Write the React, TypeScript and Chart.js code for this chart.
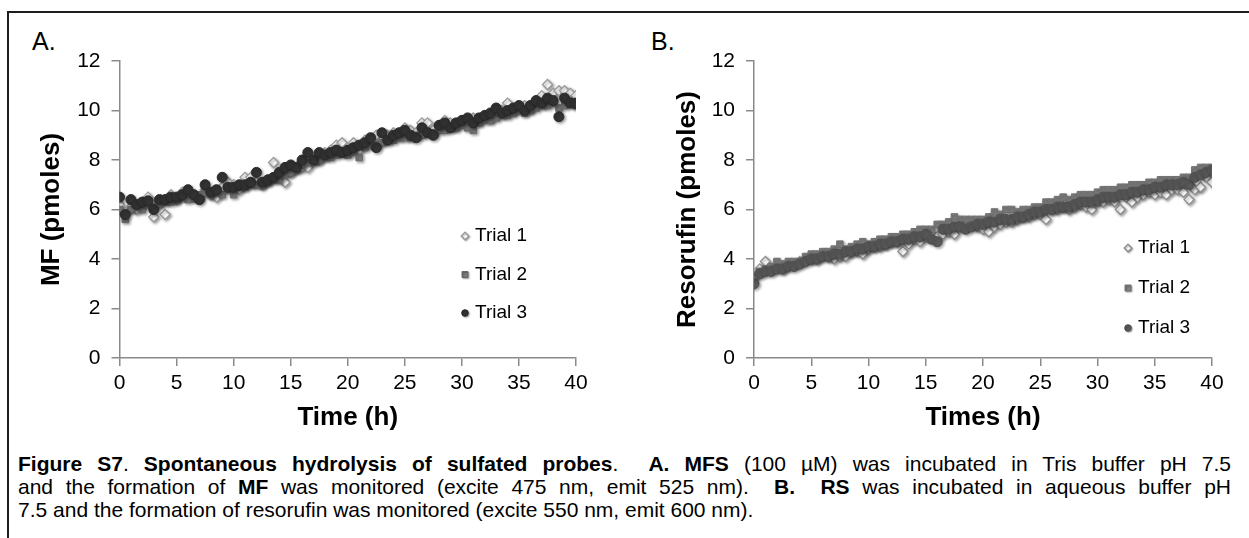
import React, { useEffect, useRef } from "react";
import { Chart, registerables } from "chart.js";

Chart.register(...registerables);

// ---------- data ----------
const times = [
  0, 0.5, 1, 1.5, 2, 2.5, 3, 3.5, 4, 4.5,
  5, 5.5, 6, 6.5, 7, 7.5, 8, 8.5, 9, 9.5,
  10, 10.5, 11, 11.5, 12, 12.5, 13, 13.5, 14, 14.5,
  15, 15.5, 16, 16.5, 17, 17.5, 18, 18.5, 19, 19.5,
  20, 20.5, 21, 21.5, 22, 22.5, 23, 23.5, 24, 24.5,
  25, 25.5, 26, 26.5, 27, 27.5, 28, 28.5, 29, 29.5,
  30, 30.5, 31, 31.5, 32, 32.5, 33, 33.5, 34, 34.5,
  35, 35.5, 36, 36.5, 37, 37.5, 38, 38.5, 39, 39.5,
  40,
];

const mfTrial1 = [
  6.2, 5.9, 6.1, 6.0, 6.2, 6.5, 5.7, 6.3, 5.8, 6.6,
  6.4, 6.7, 6.6, 6.5, 6.5, 6.8, 6.6, 6.5, 6.9, 7.1,
  7.0, 6.8, 7.3, 7.3, 7.1, 7.0, 7.2, 7.9, 7.3, 7.1,
  7.5, 7.7, 7.7, 7.7, 8.1, 8.0, 8.3, 8.4, 8.6, 8.7,
  8.5, 8.7, 8.4, 8.8, 8.7, 9.0, 8.8, 9.0, 9.1, 9.0,
  9.3, 9.2, 9.1, 9.5, 9.5, 9.2, 9.4, 9.6, 9.5, 9.4,
  9.6, 9.5, 9.7, 9.6, 9.8, 9.7, 9.9, 10.0, 10.3, 10.0,
  10.1, 10.2, 10.1, 10.3, 10.6, 11.05, 10.7, 10.8, 10.8, 10.7,
  10.6,
];
const mfTrial2 = [
  6.0, 5.6, 6.0, 6.1, 6.0, 6.2, 6.1, 6.2, 6.3, 6.3,
  6.4, 6.5, 6.4, 6.5, 6.6, 6.7, 6.6, 6.7, 6.6, 6.8,
  6.6, 6.9, 6.9, 7.0, 7.0, 7.0, 7.1, 7.2, 7.2, 7.4,
  7.5, 7.6, 7.8, 7.9, 7.9, 8.0, 8.1, 8.1, 8.2, 8.3,
  8.2, 8.3, 8.1, 8.5, 8.6, 8.6, 8.7, 8.8, 8.8, 8.9,
  8.9, 8.9, 9.0, 9.0, 9.1, 9.1, 9.2, 9.2, 9.3, 9.3,
  9.4, 9.3, 9.2, 9.5, 9.6, 9.6, 9.7, 9.8, 9.8, 9.9,
  10.0, 9.9, 10.0, 10.1, 10.2, 10.2, 10.3, 10.1, 10.2, 10.3,
  10.2,
];
const mfTrial3 = [
  6.5, 5.8, 6.4, 6.2, 6.3, 6.35, 6.0, 6.4, 6.4, 6.5,
  6.5, 6.6, 6.8, 6.6, 6.4, 7.0, 6.7, 6.8, 7.3, 6.9,
  6.9, 7.0, 7.0, 7.1, 7.5, 7.1, 7.2, 7.3, 7.5, 7.7,
  7.8, 7.7, 8.0, 8.3, 8.0, 8.3, 8.2, 8.3, 8.4, 8.3,
  8.4, 8.5, 8.6, 8.7, 8.9, 8.5, 9.1, 8.8, 9.0, 9.1,
  9.2, 9.0, 8.9, 9.3, 9.1, 9.0, 9.4, 9.5, 9.3, 9.5,
  9.6, 9.7, 9.5, 9.7, 9.8, 9.9, 10.1, 9.9, 10.0, 10.1,
  10.2, 10.0, 10.2, 10.4, 10.3, 10.5, 10.4, 9.75, 10.5, 10.3,
  10.3,
];

const rsTrial1 = [
  3.3, 3.6, 3.9, 3.6, 3.7, 3.6, 3.8, 3.8, 3.9, 4.0,
  4.0, 4.0, 4.2, 4.1, 4.0, 4.1, 4.1, 4.3, 4.3, 4.2,
  4.4, 4.5, 4.5, 4.6, 4.7, 4.7, 4.3, 4.6, 4.8, 4.7,
  4.9, 5.0, 4.9, 5.0, 5.1, 5.0, 5.3, 5.4, 5.4, 5.3,
  5.2, 5.1, 5.3, 5.4, 5.5, 5.5, 5.6, 5.7, 5.7, 5.8,
  5.8, 5.6, 6.0, 6.0, 6.1, 6.0, 6.1, 6.2, 6.1, 6.0,
  6.3, 6.3, 6.4, 6.3, 6.0, 6.5, 6.3, 6.5, 6.6, 6.7,
  6.6, 6.7, 6.6, 6.8, 6.8, 6.7, 6.4, 6.8, 6.9, 7.3,
  7.1,
];
const rsTrial2 = [
  3.3, 3.5, 3.6, 3.7, 3.9, 3.8, 3.9, 3.9, 3.9, 4.1,
  4.2, 4.2, 4.3, 4.3, 4.4, 4.6, 4.4, 4.5, 4.6, 4.7,
  4.6, 4.7, 4.8, 4.8, 4.9, 4.9, 5.0, 5.0, 5.1, 5.2,
  5.2, 5.2, 5.4, 5.4, 5.5, 5.7, 5.6, 5.6, 5.6, 5.6,
  5.6, 5.7, 5.9, 5.8, 6.0, 6.0, 5.9, 6.0, 6.0, 6.1,
  6.1, 6.3, 6.3, 6.4, 6.5, 6.4, 6.5, 6.6, 6.6, 6.6,
  6.7, 6.8, 6.8, 6.8, 6.9, 6.9, 7.0, 7.0, 7.0, 7.1,
  7.1, 7.2, 7.2, 7.2, 7.2, 7.3, 7.3, 7.6, 7.7, 7.7,
  7.7,
];
const rsTrial3 = [
  3.0, 3.4, 3.5, 3.5, 3.6, 3.6, 3.7, 3.7, 3.8, 3.9,
  4.0, 4.0, 4.1, 4.1, 4.2, 4.2, 4.3, 4.3, 4.4, 4.4,
  4.5, 4.5, 4.6, 4.6, 4.7, 4.7, 4.8, 4.8, 4.9, 4.9,
  5.0, 4.8, 4.7, 5.2, 5.2, 5.3, 5.3, 5.2, 5.3, 5.4,
  5.4, 5.5, 5.5, 5.6, 5.6, 5.6, 5.7, 5.7, 5.8, 5.9,
  5.9, 6.0, 6.0, 6.1, 6.1, 6.1, 6.2, 6.3, 6.3, 6.3,
  6.4, 6.5, 6.5, 6.5, 6.6, 6.6, 6.7, 6.7, 6.8, 6.8,
  6.9, 6.9, 7.0, 7.0, 7.0, 7.1, 7.0, 7.3, 7.4, 7.5,
  7.6,
];

const seriesNames = ["Trial 1", "Trial 2", "Trial 3"];
const xTickValues = [0, 5, 10, 15, 20, 25, 30, 35, 40];
const yTickValues = [0, 2, 4, 6, 8, 10, 12];

// ---------- styling ----------
const FONT = "'Liberation Sans', Arial, Helvetica, sans-serif";
const AXIS_COLOR = "#8a8a8a";

type MarkerStyle = {
  pointStyle: string;
  radius: number;
  fill: string;
  stroke: string;
  borderWidth: number;
  legendSize: number;
};

const stylesA: MarkerStyle[] = [
  { pointStyle: "rectRot", radius: 5, fill: "#ffffff", stroke: "#9a9a9a", borderWidth: 1.3, legendSize: 3.8 },
  { pointStyle: "rect", radius: 4.6, fill: "#7a7a7a", stroke: "#6a6a6a", borderWidth: 1, legendSize: 3 },
  { pointStyle: "circle", radius: 5, fill: "#333333", stroke: "#2a2a2a", borderWidth: 1, legendSize: 3.3 },
];
const stylesB: MarkerStyle[] = [
  { pointStyle: "rectRot", radius: 5, fill: "#ffffff", stroke: "#8e8e8e", borderWidth: 1.3, legendSize: 3.8 },
  { pointStyle: "rect", radius: 4.6, fill: "#808080", stroke: "#727272", borderWidth: 1, legendSize: 3 },
  { pointStyle: "circle", radius: 5, fill: "#5a5a5a", stroke: "#505050", borderWidth: 1, legendSize: 3.3 },
];

type PanelSpec = {
  series: number[][];
  styles: MarkerStyle[];
  yTitle: string;
  xTitle: string;
  canvasWidth: number;
  canvasHeight: number;
  yAxisWidth: number;
  padRight: number;
  yTitlePad: number;
  legendMarkerX: number;
  legendTextX: number;
  legendRows: number[];
};

const markerShadow = {
  id: "markerShadow",
  beforeDatasetsDraw(chart: any) {
    const c = chart.ctx;
    c.save();
    c.shadowColor = "rgba(0,0,0,0.38)";
    c.shadowBlur = 3;
    c.shadowOffsetX = 1.5;
    c.shadowOffsetY = 1.5;
  },
  afterDatasetsDraw(chart: any) {
    chart.ctx.restore();
  },
};

function drawMarker(c: CanvasRenderingContext2D, st: MarkerStyle, x: number, y: number) {
  const r = st.legendSize;
  c.beginPath();
  if (st.pointStyle === "rectRot") {
    c.moveTo(x, y - r);
    c.lineTo(x + r, y);
    c.lineTo(x, y + r);
    c.lineTo(x - r, y);
    c.closePath();
  } else if (st.pointStyle === "rect") {
    c.rect(x - r, y - r, 2 * r, 2 * r);
  } else {
    c.arc(x, y, r, 0, Math.PI * 2);
  }
  c.fillStyle = st.fill;
  c.fill();
  c.lineWidth = st.borderWidth;
  c.strokeStyle = st.stroke;
  c.stroke();
}

function legendPlugin(p: PanelSpec) {
  return {
    id: "customLegend",
    afterDraw(chart: any) {
      const c: CanvasRenderingContext2D = chart.ctx;
      c.save();
      c.shadowColor = "rgba(0,0,0,0.3)";
      c.shadowBlur = 1.5;
      c.shadowOffsetX = 1;
      c.shadowOffsetY = 1;
      seriesNames.forEach((_, i) => drawMarker(c, p.styles[i], p.legendMarkerX, p.legendRows[i]));
      c.restore();
      c.save();
      c.font = `19px ${FONT}`;
      c.fillStyle = "#000";
      c.textAlign = "left";
      c.textBaseline = "middle";
      seriesNames.forEach((name, i) => c.fillText(name, p.legendTextX, p.legendRows[i]));
      c.restore();
    },
  };
}

function buildConfig(p: PanelSpec): any {
  return {
    type: "scatter",
    data: {
      datasets: p.series.map((vals, i) => ({
        label: seriesNames[i],
        data: vals.map((v, j) => ({ x: times[j], y: v })),
        pointStyle: p.styles[i].pointStyle,
        pointRadius: p.styles[i].radius,
        pointBackgroundColor: p.styles[i].fill,
        pointBorderColor: p.styles[i].stroke,
        pointBorderWidth: p.styles[i].borderWidth,
        showLine: false,
        order: 3 - i,
      })),
    },
    options: {
      animation: false,
      responsive: false,
      devicePixelRatio: 1,
      events: [],
      layout: { padding: { left: 0, top: 61, right: p.padRight, bottom: 0 } },
      plugins: { legend: { display: false }, tooltip: { enabled: false } },
      scales: {
        x: {
          type: "linear",
          min: 0,
          max: 40,
          afterBuildTicks: (s: any) => {
            s.ticks = xTickValues.map((v) => ({ value: v }));
          },
          afterFit: (s: any) => {
            s.height = 82;
          },
          grid: {
            display: true,
            drawOnChartArea: false,
            drawTicks: true,
            tickLength: 8,
            color: AXIS_COLOR,
            lineWidth: 1.5,
          },
          border: { display: true, color: AXIS_COLOR, width: 1.5 },
          ticks: {
            color: "#000",
            font: { family: FONT, size: 21 },
            padding: 5,
            maxRotation: 0,
            autoSkip: false,
          },
          title: {
            display: true,
            text: p.xTitle,
            color: "#000",
            font: { family: FONT, size: 26, weight: "bold" },
            padding: { top: 0, bottom: 7 },
          },
        },
        y: {
          type: "linear",
          min: 0,
          max: 12,
          afterBuildTicks: (s: any) => {
            s.ticks = yTickValues.map((v) => ({ value: v }));
          },
          afterFit: (s: any) => {
            s.width = p.yAxisWidth;
          },
          grid: {
            display: true,
            drawOnChartArea: false,
            drawTicks: true,
            tickLength: 8,
            color: AXIS_COLOR,
            lineWidth: 1.5,
          },
          border: { display: true, color: AXIS_COLOR, width: 1.5 },
          ticks: {
            color: "#000",
            font: { family: FONT, size: 21 },
            padding: 11,
            autoSkip: false,
          },
          title: {
            display: true,
            text: p.yTitle,
            color: "#000",
            font: { family: FONT, size: 26, weight: "bold" },
            padding: { top: p.yTitlePad, bottom: 0 },
          },
        },
      },
    },
    plugins: [markerShadow, legendPlugin(p)],
  };
}

const panelA: PanelSpec = {
  series: [mfTrial1, mfTrial2, mfTrial3],
  styles: stylesA,
  yTitle: "MF (pmoles)",
  xTitle: "Time (h)",
  canvasWidth: 620,
  canvasHeight: 440,
  yAxisWidth: 119.5,
  padRight: 44,
  yTitlePad: 36,
  legendMarkerX: 465,
  legendTextX: 475,
  legendRows: [236, 274.5, 313],
};

const panelB: PanelSpec = {
  series: [rsTrial1, rsTrial2, rsTrial3],
  styles: stylesB,
  yTitle: "Resorufin (pmoles)",
  xTitle: "Times (h)",
  canvasWidth: 629,
  canvasHeight: 440,
  yAxisWidth: 134,
  padRight: 37,
  yTitlePad: 52,
  legendMarkerX: 508,
  legendTextX: 518,
  legendRows: [248, 288, 328],
};

function ChartPanel({ spec, left }: { spec: PanelSpec; left: number }) {
  const ref = useRef<HTMLCanvasElement | null>(null);
  useEffect(() => {
    if (!ref.current) return;
    const chart = new Chart(ref.current, buildConfig(spec));
    return () => chart.destroy();
  }, [spec]);
  return (
    <canvas
      ref={ref}
      width={spec.canvasWidth}
      height={spec.canvasHeight}
      style={{
        position: "absolute",
        left,
        top: 0,
        width: spec.canvasWidth,
        height: spec.canvasHeight,
      }}
    />
  );
}

const captionLine: React.CSSProperties = {
  position: "absolute",
  left: 18,
  width: 1213,
  fontFamily: FONT,
  fontSize: 21,
  lineHeight: "23px",
  color: "#000",
  whiteSpace: "nowrap",
};

const justified: React.CSSProperties = {
  textAlign: "justify",
  textAlignLast: "justify" as any,
};

export default function App() {
  return (
    <div
      style={{
        position: "absolute",
        left: 0,
        top: 0,
        width: 1249,
        height: 538,
        overflow: "hidden",
        background: "#fff",
        fontFamily: FONT,
      }}
    >
      <div
        style={{
          position: "absolute",
          left: 7,
          top: 11,
          width: 1400,
          height: 700,
          border: "2px solid #1e1e1e",
        }}
      />
      <div style={{ position: "absolute", left: 32, top: 29, fontSize: 25, lineHeight: "25px", color: "#000" }}>A.</div>
      <div style={{ position: "absolute", left: 651, top: 29, fontSize: 25, lineHeight: "25px", color: "#000" }}>B.</div>
      <ChartPanel spec={panelA} left={0} />
      <ChartPanel spec={panelB} left={620} />
      <div style={{ ...captionLine, ...justified, top: 452 }}>
        <b>Figure S7</b>. <b>Spontaneous hydrolysis of sulfated probes</b>.&nbsp; <b>A. MFS</b> (100 µM) was incubated in Tris buffer pH 7.5
      </div>
      <div style={{ ...captionLine, ...justified, top: 475 }}>
        and the formation of <b>MF</b> was monitored (excite 475 nm, emit 525 nm).&nbsp; <b>B.&nbsp; RS</b> was incubated in aqueous buffer pH
      </div>
      <div style={{ ...captionLine, top: 498 }}>
        7.5 and the formation of resorufin was monitored (excite 550 nm, emit 600 nm).
      </div>
    </div>
  );
}
